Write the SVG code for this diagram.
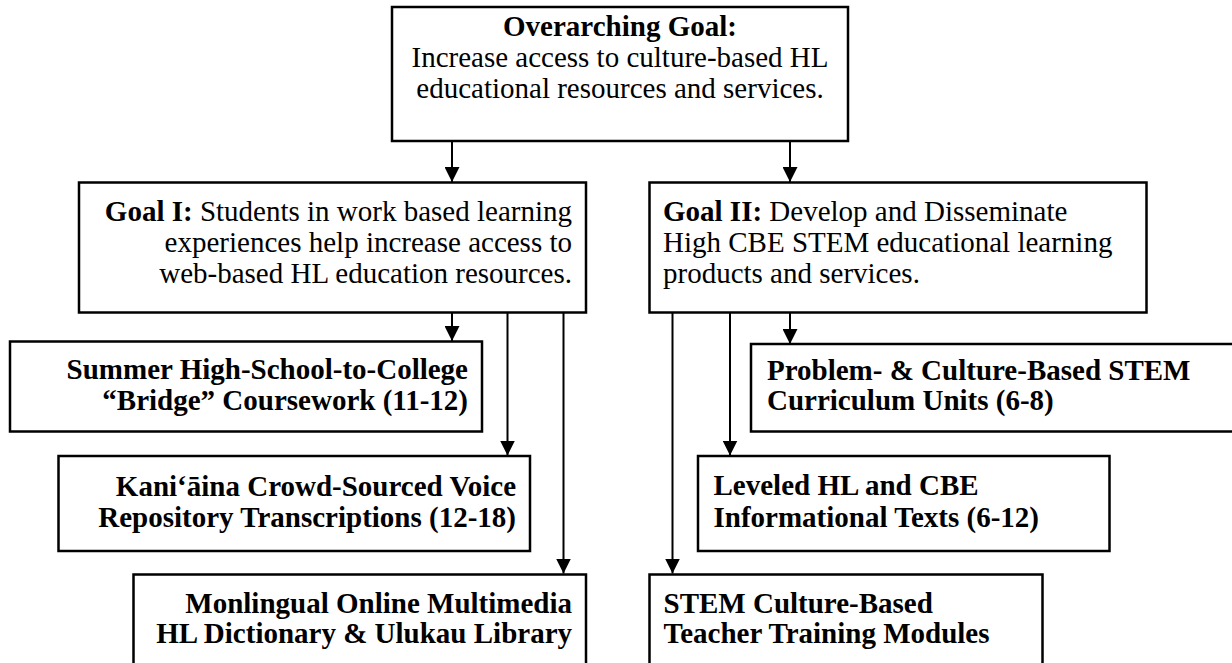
<svg xmlns="http://www.w3.org/2000/svg" width="1232" height="663" viewBox="0 0 1232 663">
  <style>
    .box { fill: #ffffff; stroke: #000000; stroke-width: 2.5; }
    .txt { font-family: "Liberation Serif", "Times New Roman", serif; font-size: 29px; fill: #000000; }
    .b { font-weight: bold; }
    .end { text-anchor: end; }
    .mid { text-anchor: middle; }
    .link { fill: none; stroke: #000000; stroke-width: 2; marker-end: url(#arrow); }
  </style>
  <defs>
    <marker id="arrow" markerWidth="15" markerHeight="15" refX="15" refY="7.5" orient="auto" markerUnits="userSpaceOnUse" viewBox="0 0 15 15">
      <path d="M0,0 L15,7.5 L0,15 Z" fill="#000000"/>
    </marker>
  </defs>
  <rect width="1232" height="663" fill="#ffffff"/>

  <!-- connectors -->
  <g id="connectors">
    <line class="link" x1="452" y1="141" x2="452" y2="182"/>
    <line class="link" x1="790" y1="141" x2="790" y2="182"/>
    <line class="link" x1="452" y1="312" x2="452" y2="341"/>
    <line class="link" x1="507.5" y1="312" x2="507.5" y2="455.5"/>
    <line class="link" x1="563.5" y1="312" x2="563.5" y2="573.5"/>
    <line class="link" x1="672.5" y1="312" x2="672.5" y2="573.5"/>
    <line class="link" x1="730" y1="312" x2="730" y2="455.5"/>
    <line class="link" x1="790" y1="312" x2="790" y2="344"/>
  </g>

  <!-- overarching goal -->
  <g id="overarching-goal">
    <rect class="box" x="392" y="7" width="456" height="134"/>
    <text class="txt b mid" x="620" y="36">Overarching Goal:</text>
    <text class="txt mid" x="620" y="67">Increase access to culture-based HL</text>
    <text class="txt mid" x="620" y="98">educational resources and services.</text>
  </g>

  <!-- goal I -->
  <g id="goal-1">
    <rect class="box" x="79" y="182.5" width="507" height="130"/>
    <text class="txt end" x="572" y="221"><tspan class="b">Goal I:</tspan> Students in work based learning</text>
    <text class="txt end" x="572" y="252">experiences help increase access to</text>
    <text class="txt end" x="572" y="283">web-based HL education resources.</text>
  </g>

  <!-- goal II -->
  <g id="goal-2">
    <rect class="box" x="649.5" y="182.5" width="497" height="130"/>
    <text class="txt" x="663" y="221"><tspan class="b">Goal II:</tspan> Develop and Disseminate</text>
    <text class="txt" x="663" y="252">High CBE STEM educational learning</text>
    <text class="txt" x="663" y="283">products and services.</text>
  </g>

  <!-- goal I outputs -->
  <g id="summer-bridge">
    <rect class="box" x="10" y="341.5" width="472" height="90"/>
    <text class="txt b end" x="468" y="379">Summer High-School-to-College</text>
    <text class="txt b end" x="468" y="410">“Bridge” Coursework (11-12)</text>
  </g>

  <g id="kaniaina">
    <rect class="box" x="58.5" y="456" width="471.5" height="95"/>
    <text class="txt b end" x="516" y="496">Kani‘āina Crowd-Sourced Voice</text>
    <text class="txt b end" x="516" y="527">Repository Transcriptions (12-18)</text>
  </g>

  <g id="monolingual">
    <rect class="box" x="133.5" y="574.5" width="452.5" height="110"/>
    <text class="txt b end" x="572" y="613">Monlingual Online Multimedia</text>
    <text class="txt b end" x="572" y="643">HL Dictionary &amp; Ulukau Library</text>
  </g>

  <!-- goal II outputs -->
  <g id="problem-culture">
    <rect class="box" x="751" y="344" width="500" height="87.5"/>
    <text class="txt b" x="767" y="380">Problem- &amp; Culture-Based STEM</text>
    <text class="txt b" x="767" y="410">Curriculum Units (6-8)</text>
  </g>

  <g id="leveled-texts">
    <rect class="box" x="698" y="456" width="411.5" height="95"/>
    <text class="txt b" x="713.5" y="495">Leveled HL and CBE</text>
    <text class="txt b" x="713.5" y="527">Informational Texts (6-12)</text>
  </g>

  <g id="teacher-training">
    <rect class="box" x="649.5" y="574.5" width="393" height="110"/>
    <text class="txt b" x="663.5" y="613">STEM Culture-Based</text>
    <text class="txt b" x="663.5" y="643">Teacher Training Modules</text>
  </g>
</svg>
